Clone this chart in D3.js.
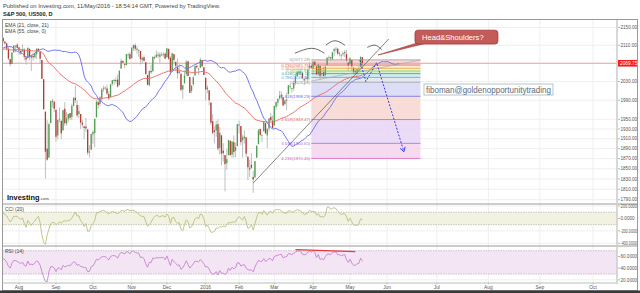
<!DOCTYPE html>
<html>
<head>
<meta charset="utf-8">
<script src="https://cdn.jsdelivr.net/npm/d3@7"></script>
<style>
  body { margin: 0; background: #fff; }
  svg { display: block; font-family: Arial, "Liberation Sans", sans-serif; }
</style>
</head>
<body>
<div id="chart"></div>
<script>
// closes before the first visible bar (Jun 1 - Jul 20 2015), only used to warm up the indicators
var warmupClose = [2111.7, 2109.6, 2114.1, 2095.8, 2092.8, 2079.3, 2080.2, 2105.2, 2108.9, 2094.1, 2084.4,
  2096.3, 2100.4, 2121.2, 2110.0, 2122.9, 2124.2, 2108.6, 2102.3, 2101.5, 2057.6, 2063.1,
  2077.4, 2076.8, 2068.8, 2081.3, 2046.7, 2051.3, 2076.6, 2099.6, 2109.0, 2107.4, 2124.3, 2126.6, 2128.3];

// daily bars [open, high, low, close], one array per month
var jul15 = [[2126,2128,2115,2119],[2118,2120,2111,2114],[2114,2116,2098,2102],[2102,2106,2077,2080],[2079,2079,2063,2068],
  [2068,2095,2068,2093],[2094,2110,2094,2109],[2108,2110,2094,2109],[2111,2115,2102,2104]];
var aug15 = [[2105,2106,2088,2098],[2097,2102,2088,2093],[2096,2112,2095,2100],[2100,2104,2076,2084],[2083,2083,2067,2078],
  [2081,2105,2081,2104],[2102,2102,2076,2084],[2082,2089,2053,2086],[2086,2093,2076,2083],[2083,2093,2080,2092],
  [2090,2103,2079,2102],[2102,2103,2094,2097],[2095,2096,2070,2080],[2077,2077,2035,2036],[2035,2035,1970,1971],
  [1966,1966,1831,1884],[1890,1948,1866,1868],[1872,1943,1872,1940],[1942,1989,1942,1988],[1986,1993,1975,1989],
  [1987,1987,1965,1972]];
var sep15 = [[1970,1970,1904,1914],[1917,1949,1909,1949],[1951,1975,1944,1951],[1947,1947,1909,1921],[1927,1970,1927,1969],
  [1972,1986,1937,1942],[1941,1965,1937,1952],[1951,1961,1944,1961],[1963,1963,1948,1953],[1955,1983,1948,1978],
  [1978,1997,1977,1995],[1995,2021,1984,1990],[1980,1990,1954,1958],[1961,1980,1952,1967],[1961,1961,1930,1943],
  [1943,1949,1933,1939],[1935,1937,1909,1932],[1935,1953,1924,1931],[1929,1930,1877,1882],[1882,1897,1872,1884],
  [1888,1920,1888,1920]];
var oct15 = [[1919,1927,1900,1924],[1922,1951,1893,1951],[1954,1990,1954,1987],[1986,1991,1972,1980],[1982,1999,1977,1996],
  [1994,2016,1987,2013],[2014,2021,2008,2015],[2015,2019,2012,2017],[2015,2023,2001,2004],[2003,2009,1990,1994],
  [1997,2025,1997,2024],[2025,2033,2021,2033],[2031,2034,2022,2034],[2033,2039,2026,2031],[2034,2045,2017,2019],
  [2022,2055,2022,2053],[2058,2080,2058,2075],[2075,2076,2070,2071],[2068,2071,2059,2066],[2066,2090,2064,2090],
  [2089,2093,2082,2089],[2090,2095,2079,2079]];
var nov15 = [[2081,2106,2081,2104],[2103,2112,2097,2110],[2110,2114,2097,2102],[2102,2108,2091,2100],[2099,2101,2084,2099],
  [2097,2097,2067,2079],[2077,2084,2069,2082],[2083,2087,2074,2075],[2072,2073,2045,2046],[2044,2045,2022,2023],
  [2022,2054,2019,2053],[2053,2067,2046,2050],[2052,2085,2052,2084],[2083,2087,2078,2081],[2083,2098,2083,2089],
  [2089,2095,2081,2087],[2084,2094,2071,2089],[2089,2094,2086,2089],[2089,2094,2084,2090],[2091,2094,2080,2080]];
var dec15 = [[2083,2103,2083,2103],[2101,2104,2077,2080],[2082,2085,2043,2050],[2052,2093,2051,2092],[2090,2090,2067,2077],
  [2073,2073,2053,2064],[2061,2080,2036,2048],[2048,2068,2047,2052],[2047,2047,2009,2012],[2013,2023,1993,2022],
  [2026,2054,2026,2043],[2046,2077,2042,2073],[2074,2076,2041,2042],[2040,2040,2005,2006],[2010,2022,2005,2021],
  [2024,2042,2021,2039],[2043,2064,2043,2064],[2064,2067,2058,2061],[2058,2058,2044,2057],[2060,2082,2060,2078],
  [2077,2077,2062,2063],[2061,2062,2044,2044]];
var jan16 = [[2038,2038,1989,2013],[2013,2022,2005,2017],[2011,2011,1979,1990],[1985,1985,1938,1943],[1946,1961,1919,1922],
  [1927,1935,1901,1924],[1927,1947,1914,1939],[1940,1950,1886,1890],[1892,1934,1878,1922],[1917,1917,1857,1880],
  [1886,1901,1864,1881],[1877,1877,1806,1859],[1861,1889,1848,1869],[1877,1908,1877,1907],[1906,1906,1876,1877],
  [1878,1906,1872,1904],[1903,1917,1872,1883],[1886,1902,1873,1893],[1895,1940,1895,1940]];
var feb16 = [[1937,1947,1921,1939],[1936,1936,1897,1903],[1907,1918,1872,1913],[1911,1927,1900,1915],[1913,1913,1873,1880],
  [1874,1874,1828,1853],[1848,1868,1834,1852],[1858,1881,1850,1852],[1834,1846,1803,1829],[1833,1865,1833,1865],
  [1872,1896,1872,1896],[1899,1930,1899,1927],[1930,1931,1915,1918],[1917,1918,1903,1918],[1925,1946,1925,1946],
  [1942,1942,1920,1921],[1917,1932,1891,1930],[1931,1952,1925,1952],[1955,1963,1946,1948],[1947,1958,1932,1932]];
var mar16 = [[1937,1978,1937,1978],[1976,1987,1969,1986],[1985,1993,1978,1993],[1994,2010,1991,2000],[1996,2009,1991,2002],
  [1996,1996,1977,1979],[1982,1992,1979,1989],[1991,2006,1969,1990],[2003,2022,2003,2022],[2019,2025,2013,2020],
  [2015,2017,2006,2016],[2015,2032,2010,2027],[2027,2046,2022,2041],[2041,2052,2041,2050],[2048,2053,2044,2052],
  [2048,2056,2043,2050],[2048,2049,2035,2037],[2032,2036,2022,2036],[2038,2042,2032,2037],[2035,2056,2027,2055],
  [2059,2072,2057,2064],[2064,2068,2058,2060]];
var apr16 = [[2057,2075,2044,2073],[2073,2074,2062,2066],[2063,2063,2044,2045],[2046,2067,2043,2067],[2064,2064,2033,2042],
  [2046,2060,2041,2048],[2050,2063,2041,2042],[2044,2066,2039,2062],[2066,2083,2066,2082],[2082,2087,2078,2083],
  [2083,2084,2075,2081],[2079,2095,2077,2094],[2097,2104,2086,2101],[2101,2106,2093,2102],[2102,2104,2088,2091],
  [2092,2096,2085,2092],[2089,2089,2078,2088],[2090,2096,2085,2092],[2092,2099,2083,2095],[2090,2099,2072,2076],
  [2071,2073,2053,2065]];
var may16 = [[2068,2083,2066,2081],[2077,2077,2053,2063],[2060,2060,2045,2051],[2053,2060,2045,2051],[2047,2058,2039,2057],
  [2057,2065,2051,2059],[2062,2085,2062,2084],[2083,2083,2064,2070]];

var months = [jul15, aug15, sep15, oct15, nov15, dec15, jan16, feb16, mar16, apr16, may16];
var monthLabels = ["", "Aug", "Sep", "Oct", "Nov", "Dec", "2016", "Feb", "Mar", "Apr", "May"];
var tradingDaysMay = 21;
var futureLabels = ["Jun", "Jul", "Aug", "Sep", "Oct"];
var futureDates = ["2016-06-01", "2016-07-01", "2016-08-01", "2016-09-01", "2016-10-03"];

var priceTicks = [1790, 1810, 1830, 1850, 1870, 1890, 1910, 1930, 1950, 1990, 2030, 2070, 2110, 2150];
var cciTicks = [200, 0, -200, -400];
var rsiTicks = [60, 40, 20];
var lastPrice = 2069.75;

var fibLevels = ["0", "0.236", "0.382", "0.5", "0.618", "0.786", "1", "1.618", "2.618", "3.618", "4.236"];
var fibPrices = [2077.28, 2065.76, 2058.63, 2052.87, 2047.11, 2038.91, 2028.46, 1998.29, 1949.47, 1900.65, 1870.46];
var fibSpan = [166, 228]; // bar index range of the fib drawing

// hand drawings, anchored at [bar index, price]
var trendLine = [[133, 1822], [210, 2124]];
var neckLine = [[166, 2031], [228, 2077]];
var shoulderArcs = [
  [[156.7, 2092], [166.2, 2103], [173.4, 2092]],
  [[174.3, 2110], [179.4, 2120], [185.1, 2110]],
  [[197.8, 2105], [202.2, 2110], [206, 2100]]
];
var projection = [[193.6, 2077], [197, 2030], [203.1, 2071], [218.6, 1884]];
var bubbleBox = [[224.9, 2144], [272, 2112.6]];
var bubbleTip = [203.9, 2088];
var signAnchor = [230, 2024.6];
var rsiDivergence = [[157, 72], [191, 68.5]];

// ---------- layout ----------
var W = 640, H = 293;
var left = 3, right = 617;
var mainTop = 20, mainBot = 204, cciBot = 246, rsiBot = 283;

var svg = d3.select("#chart").append("svg").attr("width", W).attr("height", H);

// flatten the monthly arrays into bars; index 0 = first bar of August
var bars = [], monthStart = [];
var gi = -months[0].length;
months.forEach(function (m) {
  monthStart.push(gi);
  m.forEach(function (r) {
    bars.push({ g: gi, o: r[0], h: r[1], l: r[2], c: r[3] });
    gi++;
  });
});
var junIdx = monthStart[monthStart.length - 1] + tradingDaysMay;

var x = d3.scaleLinear().domain([0, junIdx]).range([19, 387]);
var xFuture = d3.scaleTime()
  .domain([new Date(futureDates[0]), new Date(futureDates[futureDates.length - 1])])
  .range([x(junIdx), 593]);
var y = d3.scaleLog().domain([1781.9, 2167.3]).range([mainBot, mainTop]);
var yCci = d3.scaleLinear().domain([-400, 200]).range([243.3, 206]);
var yRsi = d3.scaleLinear().domain([30, 70]).range([274, 250.7]);

// ---------- indicators ----------
function ema(src, n) {
  var k = 2 / (n + 1), out = [], prev = src[0];
  src.forEach(function (v, i) { prev = i ? v * k + prev * (1 - k) : v; out.push(prev); });
  return out;
}
function rsi(src, n) {
  var out = [null], ag = 0, al = 0;
  for (var i = 1; i < src.length; i++) {
    var ch = src[i] - src[i - 1], up = Math.max(ch, 0), dn = Math.max(-ch, 0);
    if (i <= n) { ag += up / n; al += dn / n; out.push(i == n ? 100 - 100 / (1 + ag / al) : null); }
    else { ag = (ag * (n - 1) + up) / n; al = (al * (n - 1) + dn) / n; out.push(100 - 100 / (1 + ag / al)); }
  }
  return out;
}
function cci(tp, n) {
  return tp.map(function (v, i) {
    if (i < n - 1) return null;
    var w = tp.slice(i - n + 1, i + 1), m = d3.mean(w);
    var md = d3.mean(w, function (d) { return Math.abs(d - m); });
    return (v - m) / (0.015 * md);
  });
}

var closes = warmupClose.concat(bars.map(function (b) { return b.c; }));
var typical = warmupClose.concat(bars.map(function (b) { return (b.h + b.l + b.c) / 3; }));
var g0 = bars[0].g - warmupClose.length;
var ema21 = ema(closes, 21), ema55 = ema(closes, 55);
var rsiVals = rsi(closes, 14), cciVals = cci(typical, 20);

// ---------- clips ----------
var defs = svg.append("defs");
function clip(id, y0, y1) {
  defs.append("clipPath").attr("id", id).append("rect")
    .attr("x", left).attr("y", y0).attr("width", right - left).attr("height", y1 - y0);
}
clip("cMain", mainTop, mainBot);
clip("cCci", mainBot, cciBot);
clip("cRsi", cciBot, rsiBot);

// ---------- header ----------
svg.append("text").attr("x", 3).attr("y", 7.5).attr("font-size", 5.8).attr("fill", "#444")
  .text("Published on Investing.com, 11/May/2016 - 18:54:14 GMT, Powered by TradingView.");
svg.append("text").attr("x", 3).attr("y", 15.5).attr("font-size", 5.6).attr("font-weight", "bold").attr("fill", "#222")
  .text("S&P 500, US500, D");

// ---------- grid ----------
var timeTicks = [];
monthLabels.forEach(function (lab, i) { if (lab) timeTicks.push({ x: x(monthStart[i]), label: lab }); });
futureLabels.forEach(function (lab, i) { timeTicks.push({ x: xFuture(new Date(futureDates[i])), label: lab }); });

var grid = svg.append("g").attr("stroke", "#efefef").attr("stroke-width", 1);
timeTicks.forEach(function (t) {
  grid.append("line").attr("x1", t.x).attr("x2", t.x).attr("y1", mainTop).attr("y2", rsiBot);
});
priceTicks.forEach(function (p) {
  grid.append("line").attr("x1", left).attr("x2", right).attr("y1", y(p)).attr("y2", y(p));
});
cciTicks.forEach(function (v) {
  grid.append("line").attr("x1", left).attr("x2", right).attr("y1", yCci(v)).attr("y2", yCci(v));
});
rsiTicks.forEach(function (v) {
  grid.append("line").attr("x1", left).attr("x2", right).attr("y1", yRsi(v)).attr("y2", yRsi(v));
});

// ---------- main pane ----------
var main = svg.append("g").attr("clip-path", "url(#cMain)");

// fib fills
var fibFill = ["#f6d2d2", "#fbe9c8", "#e8f3cc", "#cfeecf", "#cdeae8", "#dfe5ef", "#d7d7f6", "#f6d6d0", "#e8d5f5", "#f5d3ec"];
var fibStroke = ["#999999", "#e06666", "#f0a040", "#8bc34a", "#26a69a", "#64a0dc", "#999999", "#6a6ae0", "#e06666", "#a070e0", "#d860c0"];
var fx0 = x(fibSpan[0]), fx1 = x(fibSpan[1]);
for (var i = 0; i < fibPrices.length - 1; i++) {
  main.append("rect").attr("x", fx0).attr("width", fx1 - fx0)
    .attr("y", y(fibPrices[i])).attr("height", y(fibPrices[i + 1]) - y(fibPrices[i]))
    .attr("fill", fibFill[i]).attr("opacity", 0.85);
}

// price line
main.append("line").attr("x1", left).attr("x2", right).attr("y1", y(lastPrice)).attr("y2", y(lastPrice))
  .attr("stroke", "#f4a0a0").attr("stroke-width", 1);

// candles
var candles = main.append("g");
candles.selectAll("line").data(bars).enter().append("line")
  .attr("x1", function (d) { return x(d.g); }).attr("x2", function (d) { return x(d.g); })
  .attr("y1", function (d) { return y(d.h); }).attr("y2", function (d) { return y(d.l); })
  .attr("stroke", "#b8b8b8").attr("stroke-width", 0.9);
candles.selectAll("rect").data(bars).enter().append("rect")
  .attr("x", function (d) { return x(d.g) - 0.65; }).attr("width", 1.3)
  .attr("y", function (d) { return y(Math.max(d.o, d.c)); })
  .attr("height", function (d) { return Math.max(0.8, y(Math.min(d.o, d.c)) - y(Math.max(d.o, d.c))); })
  .attr("fill", function (d) { return d.c >= d.o ? "#4f9f4f" : "#b53a34"; });

// EMAs (21 is drawn with an offset of 21 bars)
var e21 = ema21.map(function (v, i) { return [x(g0 + i + 21), y(v)]; });
var e55 = ema55.map(function (v, i) { return [x(g0 + i), y(v)]; });
var line = d3.line();
main.append("path").attr("d", line(e55)).attr("fill", "none").attr("stroke", "#f07070").attr("stroke-width", 1);
main.append("path").attr("d", line(e21)).attr("fill", "none").attr("stroke", "#7575f0").attr("stroke-width", 1);

// fib lines and labels
fibPrices.forEach(function (p, i) {
  main.append("line").attr("x1", fx0).attr("x2", fx1).attr("y1", y(p)).attr("y2", y(p))
    .attr("stroke", fibStroke[i]).attr("stroke-width", 0.8);
  main.append("text").attr("x", fx0 - 1).attr("y", y(p) + 1.5).attr("text-anchor", "end")
    .attr("font-size", 4.3).attr("fill", fibStroke[i])
    .text(fibLevels[i] + "(" + p.toFixed(2) + ")");
});

// drawings
function pt(a) { return [x(a[0]), y(a[1])]; }
main.append("path").attr("d", line(trendLine.map(pt))).attr("stroke", "#555").attr("stroke-width", 0.7).attr("fill", "none");
main.append("path").attr("d", line(neckLine.map(pt))).attr("stroke", "#aaa").attr("stroke-width", 0.7).attr("fill", "none");
var arcLine = d3.line().curve(d3.curveNatural);
shoulderArcs.forEach(function (a) {
  main.append("path").attr("d", arcLine(a.map(pt))).attr("stroke", "#444").attr("stroke-width", 0.8).attr("fill", "none");
});
var proj = projection.map(pt);
main.append("path").attr("d", line(proj)).attr("stroke", "#3b3bf0").attr("stroke-width", 1)
  .attr("stroke-dasharray", "2,1.5").attr("fill", "none");
var pA = proj[proj.length - 2], pB = proj[proj.length - 1];
var ang = Math.atan2(pB[1] - pA[1], pB[0] - pA[0]);
[-0.55, 0.55].forEach(function (da) {
  main.append("line").attr("x1", pB[0]).attr("y1", pB[1])
    .attr("x2", pB[0] - 5 * Math.cos(ang + da)).attr("y2", pB[1] - 5 * Math.sin(ang + da))
    .attr("stroke", "#3b3bf0").attr("stroke-width", 1);
});

// speech bubble
var b0 = pt(bubbleBox[0]), b1 = pt(bubbleBox[1]), tip = pt(bubbleTip);
main.append("path")
  .attr("d", "M" + (b0[0] + 2) + "," + (b1[1] - 1) + "L" + tip[0] + "," + tip[1] + "L" + (b0[0] + 12) + "," + (b1[1] - 1) + "Z")
  .attr("fill", "#c35b58").attr("stroke", "#9e3a38").attr("stroke-width", 0.6);
main.append("rect").attr("x", b0[0]).attr("y", b0[1]).attr("width", b1[0] - b0[0]).attr("height", b1[1] - b0[1])
  .attr("rx", 3).attr("fill", "#c35b58").attr("stroke", "#9e3a38").attr("stroke-width", 0.8);
main.append("text").attr("x", b0[0] + 7).attr("y", (b0[1] + b1[1]) / 2 + 2.6)
  .attr("font-size", 7.6).attr("fill", "#fff").text("Head&Shoulders?");

// signature box
var s0 = pt(signAnchor);
main.append("rect").attr("x", s0[0]).attr("y", s0[1]).attr("width", 129).attr("height", 11)
  .attr("fill", "#fff").attr("stroke", "#a8b4c0").attr("stroke-width", 0.8);
main.append("text").attr("x", s0[0] + 2).attr("y", s0[1] + 8.5)
  .attr("font-size", 9).attr("fill", "#5b6b7b")
  .attr("textLength", 125).attr("lengthAdjust", "spacingAndGlyphs")
  .text("fiboman@goldenopportunitytrading");

// labels in the main pane
svg.append("text").attr("x", 5).attr("y", 26.5).attr("font-size", 5).attr("fill", "#444").text("EMA (21, close, 21)");
svg.append("text").attr("x", 5).attr("y", 32.5).attr("font-size", 5).attr("fill", "#444").text("EMA (55, close, 0)");
var logo = svg.append("text").attr("x", 7).attr("y", 199.5).attr("font-size", 7.4).attr("font-weight", "bold").attr("fill", "#111");
logo.append("tspan").text("Investing");
logo.append("tspan").attr("font-size", 4.4).attr("font-weight", "normal").attr("fill", "#555").text(".com");

// ---------- CCI pane ----------
var cciG = svg.append("g").attr("clip-path", "url(#cCci)");
cciG.append("rect").attr("x", left).attr("width", right - left)
  .attr("y", yCci(100)).attr("height", yCci(-100) - yCci(100)).attr("fill", "#f1f2e1");
[100, -100].forEach(function (v) {
  cciG.append("line").attr("x1", left).attr("x2", right).attr("y1", yCci(v)).attr("y2", yCci(v))
    .attr("stroke", "#b0b0a0").attr("stroke-dasharray", "1.5,1").attr("stroke-width", 0.7);
});
var cciPts = [];
cciVals.forEach(function (v, i) { if (v !== null) cciPts.push([x(g0 + i), yCci(v)]); });
cciG.append("path").attr("d", line(cciPts)).attr("fill", "none").attr("stroke", "#bcbd80").attr("stroke-width", 0.9);
svg.append("text").attr("x", 5).attr("y", 210.5).attr("font-size", 5).attr("fill", "#444").text("CCI (20)");

// ---------- RSI pane ----------
var rsiG = svg.append("g").attr("clip-path", "url(#cRsi)");
rsiG.append("rect").attr("x", left).attr("width", right - left)
  .attr("y", yRsi(70)).attr("height", yRsi(30) - yRsi(70)).attr("fill", "#f4e5f5");
[70, 30].forEach(function (v) {
  rsiG.append("line").attr("x1", left).attr("x2", right).attr("y1", yRsi(v)).attr("y2", yRsi(v))
    .attr("stroke", "#b8a8b8").attr("stroke-dasharray", "1.5,1").attr("stroke-width", 0.7);
});
var rsiPts = [];
rsiVals.forEach(function (v, i) { if (v !== null) rsiPts.push([x(g0 + i), yRsi(v)]); });
rsiG.append("path").attr("d", line(rsiPts)).attr("fill", "none").attr("stroke", "#c583cd").attr("stroke-width", 0.9);
rsiG.append("path").attr("d", line(rsiDivergence.map(function (a) { return [x(a[0]), yRsi(a[1])]; })))
  .attr("stroke", "#e8383d").attr("stroke-width", 1.2);
svg.append("text").attr("x", 5).attr("y", 252.5).attr("font-size", 5).attr("fill", "#444").text("RSI (14)");

// ---------- frame and separators ----------
var frame = svg.append("g").attr("fill", "none");
frame.append("rect").attr("x", 2.5).attr("y", mainTop - 0.5).attr("width", 635).attr("height", 271)
  .attr("stroke", "#999");
[mainBot, cciBot].forEach(function (v) {
  frame.append("line").attr("x1", 2.5).attr("x2", 637.5).attr("y1", v).attr("y2", v).attr("stroke", "#9a9a9a").attr("stroke-width", 1.2);
});
frame.append("line").attr("x1", 2.5).attr("x2", right).attr("y1", rsiBot).attr("y2", rsiBot).attr("stroke", "#bbb");
frame.append("line").attr("x1", right).attr("x2", right).attr("y1", mainTop).attr("y2", rsiBot + 1)
  .attr("stroke", "#cfcfcf").attr("stroke-width", 1.6);
svg.append("rect").attr("x", 0).attr("y", 290.5).attr("width", W).attr("height", 2.5).attr("fill", "#3a3a3a");

// ---------- axes ----------
function axisLabels(vals, scale, fmt, fit) {
  vals.forEach(function (v) {
    var yy = scale(v);
    svg.append("line").attr("x1", right + 1).attr("x2", right + 3).attr("y1", yy).attr("y2", yy).attr("stroke", "#888").attr("stroke-width", 0.6);
    var t = svg.append("text").attr("x", right + 3.5).attr("y", yy + 1.7).attr("font-size", 4.6).attr("fill", "#555").text(fmt(v));
    if (fit && t.node().getComputedTextLength() > fit) t.attr("textLength", fit).attr("lengthAdjust", "spacingAndGlyphs");
  });
}
axisLabels(priceTicks, y, function (v) { return v.toFixed(2); });
axisLabels(cciTicks, yCci, function (v) { return v.toFixed(4); }, 16.5);
axisLabels(rsiTicks, yRsi, function (v) { return v.toFixed(4); }, 16.5);

// last price marker
svg.append("rect").attr("x", right + 1).attr("y", y(lastPrice) - 3.3).attr("width", 19).attr("height", 6.6).attr("fill", "#ff1a1a");
svg.append("text").attr("x", right + 3).attr("y", y(lastPrice) + 1.8).attr("font-size", 4.8).attr("fill", "#fff")
  .text(lastPrice.toFixed(2));

// time axis
timeTicks.forEach(function (t) {
  svg.append("line").attr("x1", t.x).attr("x2", t.x).attr("y1", rsiBot).attr("y2", rsiBot + 1.5).attr("stroke", "#999").attr("stroke-width", 0.6);
  svg.append("text").attr("x", t.x).attr("y", 289).attr("text-anchor", "middle")
    .attr("font-size", 4.8).attr("fill", "#555").text(t.label);
});
</script>
</body>
</html>
